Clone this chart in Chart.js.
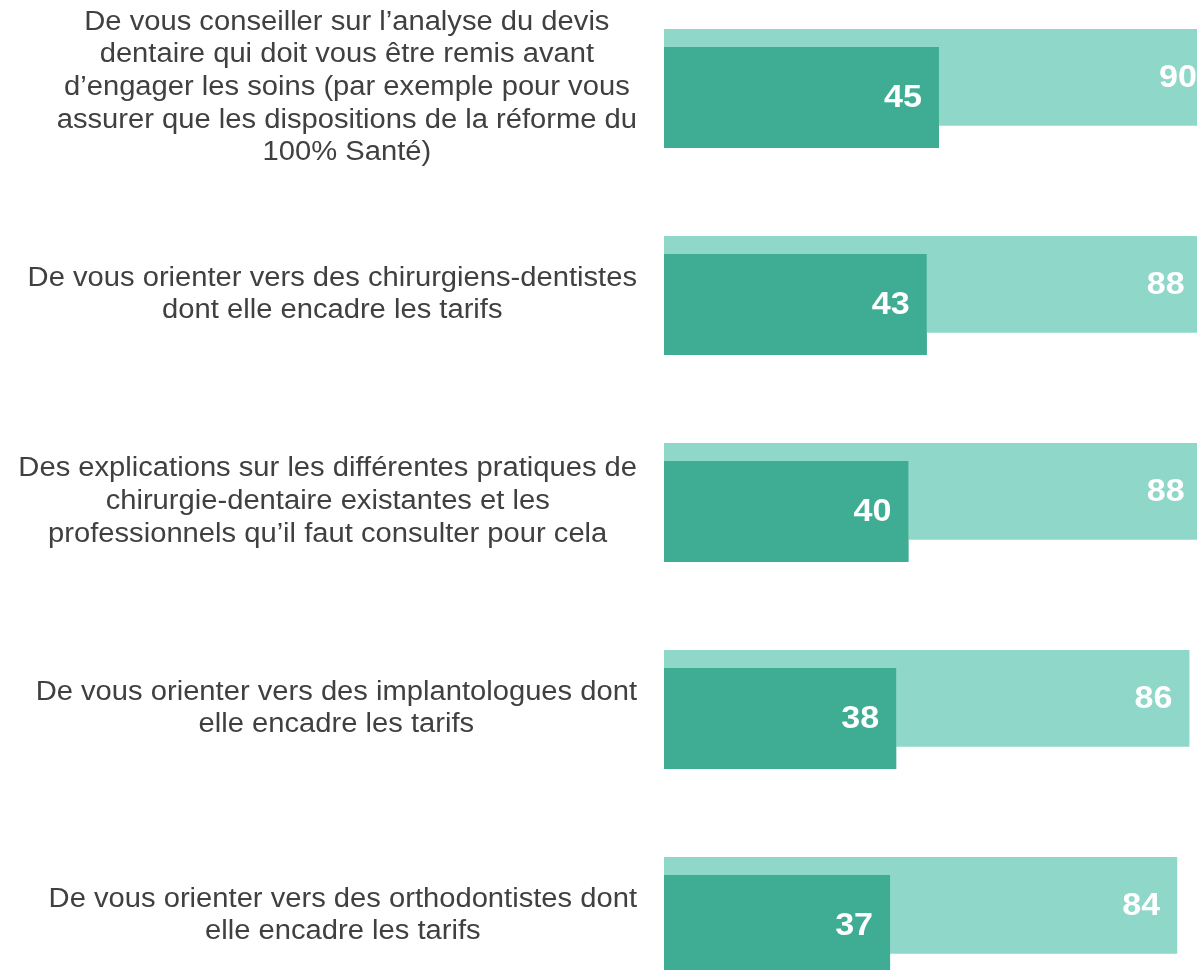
<!DOCTYPE html>
<html lang="fr">
<head>
<meta charset="utf-8">
<script src="https://cdn.jsdelivr.net/npm/chart.js@4/dist/chart.umd.min.js"></script>
<style>
  html, body { margin: 0; padding: 0; background: #fff; overflow: hidden; width: 1197px; height: 970px; }
  #wrap { position: absolute; left: 0; top: -16px; width: 1275px; height: 1035px; }
</style>
</head>
<body>
<div id="wrap"><canvas id="graphique" width="1275" height="1035"></canvas></div>
<script>
const categories = [
    ["De vous conseiller sur l’analyse du devis", "dentaire qui doit vous être remis avant", "d’engager les soins (par exemple pour vous", "assurer que les dispositions de la réforme du", "100% Santé)"],
    ["De vous orienter vers des chirurgiens-dentistes", "dont elle encadre les tarifs"],
    ["Des explications sur les différentes pratiques de", "chirurgie-dentaire existantes et les", "professionnels qu’il faut consulter pour cela"],
    ["De vous orienter vers des implantologues dont", "elle encadre les tarifs"],
    ["De vous orienter vers des orthodontistes dont", "elle encadre les tarifs"]
];
const valeursTotal = [90, 88, 88, 86, 84];
const valeursPremier = [45, 43, 40, 38, 37];

const couleurClaire = "#8FD7C8";
const couleurFoncee = "#3EAD94";

// texte un peu élargi comme sur l'original
function texteEtire(c, txt, x, y, sx) {
    c.save();
    c.translate(x, y);
    c.scale(sx, 1);
    c.fillText(txt, 0, 0);
    c.restore();
}

// libellés de gauche : bloc aligné à droite, lignes centrées
const libellesPlugin = {
    id: "libelles",
    afterDraw(chart) {
        const c = chart.ctx;
        const y = chart.scales.y;
        const sx = 1.08;
        c.save();
        c.font = "27px 'Liberation Sans', Arial, sans-serif";
        c.fillStyle = "#404040";
        c.textAlign = "center";
        c.textBaseline = "middle";
        const hauteurLigne = 32.7;
        categories.forEach(function (lignes, i) {
            const largeur = sx * Math.max.apply(null, lignes.map(l => c.measureText(l).width));
            const cx = 637 - largeur / 2;
            const cy = y.getPixelForValue(i);
            const debut = cy - (lignes.length - 1) * hauteurLigne / 2;
            lignes.forEach(function (l, k) {
                texteEtire(c, l, cx, debut + k * hauteurLigne, sx);
            });
        });
        c.restore();
    }
};

// la barre foncée passe au-dessus, puis les valeurs
const valeursPlugin = {
    id: "valeurs",
    afterDatasetsDraw(chart) {
        chart.getDatasetMeta(1).controller.draw();
        const c = chart.ctx;
        c.save();
        c.font = "bold 31px 'Liberation Sans', Arial, sans-serif";
        c.fillStyle = "#ffffff";
        c.textAlign = "right";
        c.textBaseline = "middle";
        chart.data.datasets.forEach(function (ds, d) {
            chart.getDatasetMeta(d).data.forEach(function (barre, i) {
                texteEtire(c, String(ds.data[i]), barre.x - 17, barre.y + 1, 1.1);
            });
        });
        c.restore();
    }
};

new Chart(document.getElementById("graphique").getContext("2d"), {
    type: "bar",
    data: {
        labels: categories,
        datasets: [
            {
                label: "Total",
                data: valeursTotal,
                backgroundColor: couleurClaire,
                categoryPercentage: 0.1943,
                barPercentage: 4.81,
            },
            {
                label: "En premier",
                data: valeursPremier,
                backgroundColor: couleurFoncee,
                categoryPercentage: 0.1943,
                barPercentage: 5.02,
            },
        ],
    },
    options: {
        indexAxis: "y",
        responsive: false,
        animation: false,
        layout: { padding: { left: 664, right: 0, top: 0, bottom: 0 } },
        plugins: {
            legend: { display: false },
            tooltip: { enabled: false },
        },
        scales: {
            x: { display: false, min: 0, max: 100 },
            y: { display: false },
        },
    },
    plugins: [libellesPlugin, valeursPlugin],
});
</script>
</body>
</html>
